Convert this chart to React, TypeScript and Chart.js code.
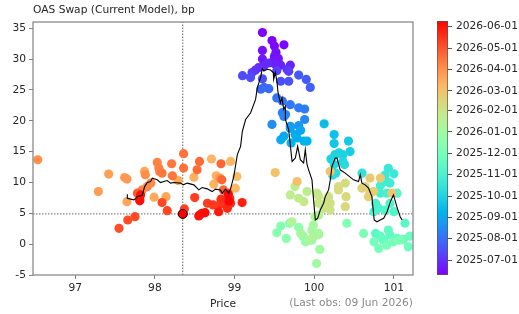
import React, { useEffect, useRef } from 'react';
import { Chart, registerables } from 'chart.js';

Chart.register(...registerables);

// ---------------- data ----------------
const titleText = 'OAS Swap (Current Model), bp';
const xLabel = 'Price';
const noteText = '(Last obs: 09 Jun 2026)';

const xRange = [96.47, 101.24];
const yRange = [-5, 36];
const xTicks = [97, 98, 99, 100, 101];
const yTicks = [-5, 0, 5, 10, 15, 20, 25, 30, 35];
const cbRange = ['2025-06-10', '2026-06-09'];
const cbTicks = [
  '2025-07-01', '2025-08-01', '2025-09-01', '2025-10-01', '2025-11-01', '2025-12-01',
  '2026-01-01', '2026-02-01', '2026-03-01', '2026-04-01', '2026-05-01', '2026-06-01',
];

const lastPrice = 98.35;
const lastOas = 4.9;

const obsDates = [
  '2025-06-10', '2025-06-11', '2025-06-12', '2025-06-13', '2025-06-16', '2025-06-17', '2025-06-18', '2025-06-19',
  '2025-06-20', '2025-06-23', '2025-06-24', '2025-06-25', '2025-06-26', '2025-06-27', '2025-06-30', '2025-07-01',
  '2025-07-02', '2025-07-03', '2025-07-07', '2025-07-08', '2025-07-09', '2025-07-14', '2025-07-15', '2025-07-16',
  '2025-07-17', '2025-07-18', '2025-07-21', '2025-07-22', '2025-07-24', '2025-07-28', '2025-07-29', '2025-07-30',
  '2025-08-04', '2025-08-05', '2025-08-06', '2025-08-07', '2025-08-08', '2025-08-11', '2025-08-12', '2025-08-13',
  '2025-08-14', '2025-08-18', '2025-08-20', '2025-08-22', '2025-08-26',
  '2025-09-01', '2025-09-02', '2025-09-03', '2025-09-04', '2025-09-05', '2025-09-08', '2025-09-09', '2025-09-10',
  '2025-09-15', '2025-09-18', '2025-09-22', '2025-09-24', '2025-09-26', '2025-09-29', '2025-09-30',
  '2025-10-01', '2025-10-02', '2025-10-03', '2025-10-06', '2025-10-07', '2025-10-08', '2025-10-09', '2025-10-14',
  '2025-10-20', '2025-10-21', '2025-10-22', '2025-10-23', '2025-10-24', '2025-10-27', '2025-10-28', '2025-10-29',
  '2025-10-31',
  '2025-11-03', '2025-11-04', '2025-11-05', '2025-11-06', '2025-11-07', '2025-11-10', '2025-11-12', '2025-11-14',
  '2025-11-17', '2025-11-18', '2025-11-19', '2025-11-20', '2025-11-21', '2025-11-24', '2025-11-25', '2025-11-26',
  '2025-12-01', '2025-12-02', '2025-12-03', '2025-12-04', '2025-12-05', '2025-12-08', '2025-12-10', '2025-12-12',
  '2025-12-15', '2025-12-16', '2025-12-17', '2025-12-18', '2025-12-19', '2025-12-22', '2025-12-23', '2025-12-29',
  '2025-12-30',
  '2026-01-02', '2026-01-05', '2026-01-06', '2026-01-07', '2026-01-08', '2026-01-09', '2026-01-12', '2026-01-13',
  '2026-01-14', '2026-01-15', '2026-01-20', '2026-01-21', '2026-01-22', '2026-01-23', '2026-01-26', '2026-01-27',
  '2026-01-28', '2026-01-29', '2026-01-30',
  '2026-02-02', '2026-02-03', '2026-02-04', '2026-02-05', '2026-02-06', '2026-02-09', '2026-02-10', '2026-02-11',
  '2026-02-12', '2026-02-16', '2026-02-17', '2026-02-18', '2026-02-19', '2026-02-20', '2026-02-23', '2026-02-24',
  '2026-02-25', '2026-02-26',
  '2026-03-02', '2026-03-03', '2026-03-05', '2026-03-06', '2026-03-09', '2026-03-10', '2026-03-11', '2026-03-12',
  '2026-03-13', '2026-03-16', '2026-03-17', '2026-03-18', '2026-03-19', '2026-03-20', '2026-03-23', '2026-03-24',
  '2026-03-26', '2026-03-27', '2026-03-30',
  '2026-04-01', '2026-04-02', '2026-04-03', '2026-04-06', '2026-04-07', '2026-04-08', '2026-04-09', '2026-04-10',
  '2026-04-13', '2026-04-14', '2026-04-15', '2026-04-16', '2026-04-17', '2026-04-20', '2026-04-21', '2026-04-22',
  '2026-04-23', '2026-04-24', '2026-04-27', '2026-04-28', '2026-04-29',
  '2026-05-04', '2026-05-05', '2026-05-06', '2026-05-07', '2026-05-08', '2026-05-11', '2026-05-12', '2026-05-13',
  '2026-05-14', '2026-05-15', '2026-05-18', '2026-05-19', '2026-05-20', '2026-05-21', '2026-05-22', '2026-05-26',
  '2026-05-27', '2026-05-28', '2026-05-29',
  '2026-06-01', '2026-06-02', '2026-06-03', '2026-06-04', '2026-06-05', '2026-06-08', '2026-06-09',
];

const obsPrice = [
  99.35, 99.47, 99.62, 99.50, 99.35, 99.52, 99.50, 99.55,
  99.35, 99.45, 99.51, 99.58, 99.70, 99.37, 99.41, 99.30,
  99.66, 99.26, 99.22, 99.68, 99.53, 99.10, 99.20, 99.35,
  99.58, 99.68, 99.805, 99.90, 99.95, 99.37, 99.43, 99.33,
  99.53, 99.60, 99.70, 99.805, 99.88, 99.60, 99.64, 99.62,
  99.88, 99.47, 99.70, 99.805, 99.70,
  99.83, 99.62, 99.58, 99.76, 99.785, 99.87, 99.91, 99.71,
  100.125, 100.25, 100.25, 100.43, 100.45, 100.31, 100.36,
  100.26, 100.21, 100.36, 100.25, 100.38, 100.23, 100.27, 100.60,
  100.93, 101.00, 100.89, 100.91, 100.95, 100.83, 100.83, 100.91,
  100.77,
  100.81, 100.75, 100.95, 100.89, 101.00, 101.04, 101.14, 100.77,
  100.83, 100.93, 100.95, 100.87, 101.04, 101.12, 101.20, 101.18,
  100.75, 100.81, 100.995, 100.91, 101.07, 100.62, 100.41, 99.58,
  99.69, 99.805, 99.53, 99.65, 99.86, 99.89, 99.97, 100.055,
  100.07,
  100.03, 99.99, 99.97, 100.055, 99.83, 99.93, 99.99, 99.72,
  100.01, 100.055, 99.76, 99.70, 99.91, 99.805, 99.87, 100.035,
  100.055, 100.055, 100.12,
  100.20, 100.18, 100.20, 100.16, 100.305, 100.39, 100.305, 100.40,
  100.39, 100.60, 100.64, 100.70, 100.745, 100.68, 100.70, 100.83,
  100.975, 100.20,
  99.51, 99.785, 99.03, 99.01, 98.95, 98.71, 98.74, 98.77,
  98.49, 98.29, 97.99, 98.14, 97.87, 97.65, 97.42, 97.29,
  97.62, 97.65, 98.815,
  96.53, 97.88, 97.95, 97.905, 97.84, 98.03, 98.05, 98.06,
  98.09, 98.21, 98.22, 98.36, 98.36, 98.53, 98.56, 98.83,
  98.84, 98.86, 98.92, 97.78, 97.81,
  97.55, 97.66, 97.75, 98.09, 98.155, 98.37, 98.50, 98.66,
  98.73, 98.82, 98.83, 98.91, 98.94, 98.95, 98.91, 99.095,
  98.55, 98.59, 98.80,
  97.82, 97.81, 98.56, 98.63, 98.92, 98.93, 98.35,
];

const obsOas = [
  34.3, 33.0, 32.3, 32.1, 31.4, 31.1, 30.4, 30.1,
  30.0, 29.4, 29.2, 29.0, 29.0, 28.9, 29.3, 28.6,
  28.3, 28.2, 27.8, 28.0, 28.1, 27.3, 27.0, 26.8,
  26.4, 26.4, 27.4, 26.7, 25.4, 25.4, 25.2, 25.1,
  23.7, 23.2, 22.6, 22.1, 21.9, 21.3, 21.0, 20.7,
  20.2, 19.4, 19.1, 19.2, 18.8,
  18.45, 17.5, 16.9, 17.75, 17.2, 16.7, 16.7, 16.4,
  19.5, 17.75, 16.3, 16.7, 15.0, 14.8, 14.5,
  14.5, 13.8, 13.4, 12.9, 12.9, 11.2, 11.5, 11.5,
  12.3, 11.4, 11.2, 10.15, 9.9, 9.45, 8.26, 8.26,
  6.6,
  5.8, 5.26, 6.6, 5.5, 5.26, 8.26, 3.4, 1.74,
  1.3, 2.28, 1.47, 0.65, 0.93, 0.77, 1.3, -0.44,
  0.37, -0.7, 0.37, -0.16, 0.65, 1.74, 3.37, 2.93,
  3.37, 2.72, 1.84, 0.93, 1.3, 0.37, 0.65, 1.58,
  -0.86,
  -3.14, 3.09, 2.28, 1.74, 1.74, 0.65, 1.19, 3.63,
  4.45, 4.72, 9.33, 7.98, 8.52, 7.44, 6.89, 8.26,
  7.82, 6.63, 5.81,
  5.54, 7.7, 6.63, 7.17, 9.33, 9.89, 8.79, 7.7,
  6.07, 9.07, 9.33, 8.26, 8.52, 7.7, 10.7, 10.7,
  8.26, 11.78,
  11.6, 10.15, 10.96, 9.07, 13.4, 13.8, 9.72, 11.07,
  10.86, 10.31, 7.61, 7.7, 11.78, 6.89, 11.35, 8.52,
  10.8, 10.54, 10.7,
  13.68, 11.24, 9.89, 9.33, 8.79, 13.24, 12.33, 11.78,
  11.51, 13.03, 11.07, 14.66, 12.33, 12.05, 13.4, 13.03,
  10.42, 8.79, 8.26, 8.26, 7.28,
  2.56, 3.91, 4.45, 6.73, 5.42, 5.7, 7.54, 6.63,
  6.35, 6.51, 7.28, 6.35, 7.44, 6.63, 5.81, 6.73,
  4.56, 5.0, 5.26,
  7.98, 7.05, 4.72, 5.1, 8.1, 7.0, 4.9,
];

// smoothed OAS vs price curve
const trendPrice = [
  97.654, 97.654, 97.737, 97.779, 97.842, 97.871, 97.905, 97.946, 97.967, 98.03,
  98.071, 98.113, 98.155, 98.197, 98.238, 98.322, 98.356, 98.406, 98.489, 98.551,
  98.594, 98.657, 98.719, 98.761, 98.823, 98.845, 98.886, 98.927, 98.949, 98.99,
  99.035, 99.076, 99.098, 99.139, 99.202, 99.264, 99.286, 99.327, 99.348, 99.368,
  99.41, 99.452, 99.486, 99.491, 99.513, 99.534, 99.546, 99.575, 99.596, 99.617,
  99.638, 99.638, 99.679, 99.722, 99.763, 99.792, 99.826, 99.867, 99.888, 99.91,
  99.93, 99.972, 99.992, 100.014, 100.043, 100.076, 100.118, 100.139, 100.18, 100.202,
  100.223, 100.264, 100.286, 100.326, 100.389, 100.494, 100.556, 100.578, 100.599, 100.64,
  100.682, 100.724, 100.753, 100.787, 100.828, 100.872, 100.915, 100.956, 100.995, 101.037,
  101.079, 101.103,
];
const trendOas = [
  8.09, 7.44, 7.17, 7.70, 7.98, 9.33, 9.98, 10.15, 10.70, 10.42,
  9.98, 10.15, 10.31, 9.89, 9.98, 9.89, 9.61, 9.89, 9.61, 8.79,
  9.17, 8.96, 8.52, 8.91, 8.79, 8.26, 8.91, 8.26, 8.91, 10.96,
  14.5, 15.85, 18.29, 20.2, 21.29, 23.45, 25.36, 27.04, 28.45, 28.06,
  28.34, 28.22, 27.8, 26.71, 27.8, 26.17, 24.54, 22.92, 23.73, 21.82,
  22.36, 20.2, 18.57, 13.4, 13.96, 15.85, 13.68, 13.14, 15.31, 12.87,
  12.05, 10.42, 7.17, 3.91, 4.19, 5.54, 6.63, 7.70, 8.79, 10.42,
  12.59, 13.96, 13.96, 12.05, 11.51, 10.42, 10.15, 11.24, 9.89, 9.61,
  9.07, 7.70, 3.91, 3.63, 3.91, 4.19, 5.26, 6.89, 7.98, 6.07,
  4.45, 3.91,
];

// ---------------- helpers ----------------
const FONT = 'DejaVu Sans';
const TEXT = '#262626';
const SPINE = '#808080';

function rainbow(t: number, alpha = 1) {
  const c = (v: number) => Math.round(Math.max(0, Math.min(1, v)) * 255);
  const r = c(Math.abs(2 * t - 0.5));
  const g = c(Math.sin(Math.PI * t));
  const b = c(Math.cos((Math.PI * t) / 2));
  return `rgba(${r},${g},${b},${alpha})`;
}

const t0 = Date.parse(cbRange[0]);
const t1 = Date.parse(cbRange[1]);
const frac = (d: string) => (Date.parse(d) - t0) / (t1 - t0);

export default function App() {
  const mainRef = useRef<HTMLCanvasElement>(null);
  const cbRef = useRef<HTMLCanvasElement>(null);

  useEffect(() => {
    Chart.defaults.font.family = FONT;
    const pointColors = obsDates.map((d) => rainbow(frac(d)));
    const lastColor = rainbow(frac(obsDates[obsDates.length - 1]));

    const framePlugin = {
      id: 'frameAndNote',
      afterDraw(chart: any) {
        const { ctx, chartArea } = chart;
        ctx.save();
        ctx.strokeStyle = SPINE;
        ctx.lineWidth = 1.2;
        ctx.strokeRect(chartArea.left, chartArea.top, chartArea.right - chartArea.left, chartArea.bottom - chartArea.top);
        ctx.font = `10.67px "${FONT}"`;
        ctx.fillStyle = '#8a8a8a';
        ctx.textAlign = 'right';
        ctx.textBaseline = 'middle';
        ctx.fillText(noteText, chartArea.right, chartArea.bottom + 28);
        ctx.restore();
      },
    };

    const main = new Chart(mainRef.current!, {
      type: 'scatter',
      data: {
        datasets: [
          {
            type: 'scatter',
            data: obsPrice.map((x, i) => ({ x, y: obsOas[i] })),
            pointRadius: 4.6,
            pointBackgroundColor: pointColors,
            pointBorderWidth: 0,
            pointHoverRadius: 4.6,
            order: 4,
          } as any,
          {
            type: 'line',
            data: trendPrice.map((x, i) => ({ x, y: trendOas[i] })),
            borderColor: '#000',
            borderWidth: 1.1,
            pointRadius: 0,
            tension: 0,
            order: 2,
          },
          {
            type: 'line',
            data: [{ x: xRange[0], y: lastOas }, { x: xRange[1], y: lastOas }],
            borderColor: '#666',
            borderWidth: 1,
            borderDash: [1.5, 1.5],
            pointRadius: 0,
            order: 5,
          },
          {
            type: 'line',
            data: [{ x: lastPrice, y: yRange[0] }, { x: lastPrice, y: yRange[1] }],
            borderColor: '#666',
            borderWidth: 1,
            borderDash: [1.5, 1.5],
            pointRadius: 0,
            order: 5,
          },
          {
            type: 'scatter',
            data: [{ x: lastPrice, y: lastOas }],
            backgroundColor: lastColor,
            borderColor: '#000',
            pointStyle: 'circle',
            pointRadius: 4.5,
            pointBackgroundColor: lastColor,
            pointBorderColor: '#000',
            pointBorderWidth: 1,
            order: 1,
          } as any,
        ],
      },
      options: {
        animation: false,
        responsive: false,
        maintainAspectRatio: false,
        events: [],
        layout: { padding: { left: 0, right: 17, top: 0, bottom: 0 } },
        plugins: {
          legend: { display: false },
          tooltip: { enabled: false },
          title: {
            display: true,
            text: titleText,
            align: 'start',
            fullSize: false,
            color: TEXT,
            font: { family: FONT, size: 10.67, weight: 'normal' },
            padding: { top: 4, bottom: 5.2 },
          },
        },
        scales: {
          x: {
            type: 'linear',
            min: xRange[0],
            max: xRange[1],
            afterBuildTicks: (s: any) => {
              s.ticks = xTicks.map((v) => ({ value: v }));
            },
            afterFit: (s: any) => {
              s.height = 39;
            },
            ticks: { color: TEXT, font: { family: FONT, size: 10.67 }, padding: 3, maxRotation: 0 },
            grid: { drawOnChartArea: false, drawTicks: true, tickLength: 4, color: SPINE },
            border: { display: false },
            title: {
              display: true,
              text: xLabel,
              color: TEXT,
              font: { family: FONT, size: 10.67 },
              padding: { top: 0, bottom: 3 },
            },
          },
          y: {
            type: 'linear',
            min: yRange[0],
            max: yRange[1],
            afterBuildTicks: (s: any) => {
              s.ticks = yTicks.map((v) => ({ value: v }));
            },
            afterFit: (s: any) => {
              s.width = 33;
            },
            ticks: { color: TEXT, font: { family: FONT, size: 10.67 }, padding: 3 },
            grid: { drawOnChartArea: false, drawTicks: true, tickLength: 4, color: SPINE },
            border: { display: false },
          },
        },
      } as any,
      plugins: [framePlugin],
    });

    const cb = new Chart(cbRef.current!, {
      type: 'bar',
      data: {
        labels: [''],
        datasets: [
          {
            data: [[t0, t1]] as any,
            backgroundColor: (c: any) => {
              const area = c.chart.chartArea;
              if (!area) return 'transparent';
              const g = c.chart.ctx.createLinearGradient(0, area.bottom, 0, area.top);
              for (let i = 0; i <= 40; i++) g.addColorStop(i / 40, rainbow(i / 40));
              return g;
            },
            borderColor: '#555',
            borderWidth: 1,
            borderSkipped: false,
            barPercentage: 1,
            categoryPercentage: 1,
          } as any,
        ],
      },
      options: {
        animation: false,
        responsive: false,
        maintainAspectRatio: false,
        events: [],
        layout: { padding: { left: 17, right: 0, top: 21, bottom: 39 } },
        plugins: { legend: { display: false }, tooltip: { enabled: false } },
        scales: {
          x: { display: false },
          y: {
            position: 'right',
            min: t0,
            max: t1,
            afterBuildTicks: (s: any) => {
              s.ticks = cbTicks.map((d) => ({ value: Date.parse(d) }));
            },
            afterFit: (s: any) => {
              s.width = 71;
            },
            ticks: {
              color: TEXT,
              font: { family: FONT, size: 10.67 },
              padding: 4,
              callback: (v: any) => new Date(v).toISOString().slice(0, 10),
            },
            grid: { drawOnChartArea: false, drawTicks: true, tickLength: 4, color: '#555' },
            border: { display: false },
          },
        },
      } as any,
    });

    return () => {
      main.destroy();
      cb.destroy();
    };
  }, []);

  return (
    <div style={{ position: 'fixed', left: 0, top: 0, width: 519, height: 314, background: '#fff' }}>
      <canvas ref={mainRef} width={430} height={314} style={{ position: 'absolute', left: 0, top: 0 }} />
      <canvas ref={cbRef} width={99} height={314} style={{ position: 'absolute', left: 420, top: 0 }} />
    </div>
  );
}
